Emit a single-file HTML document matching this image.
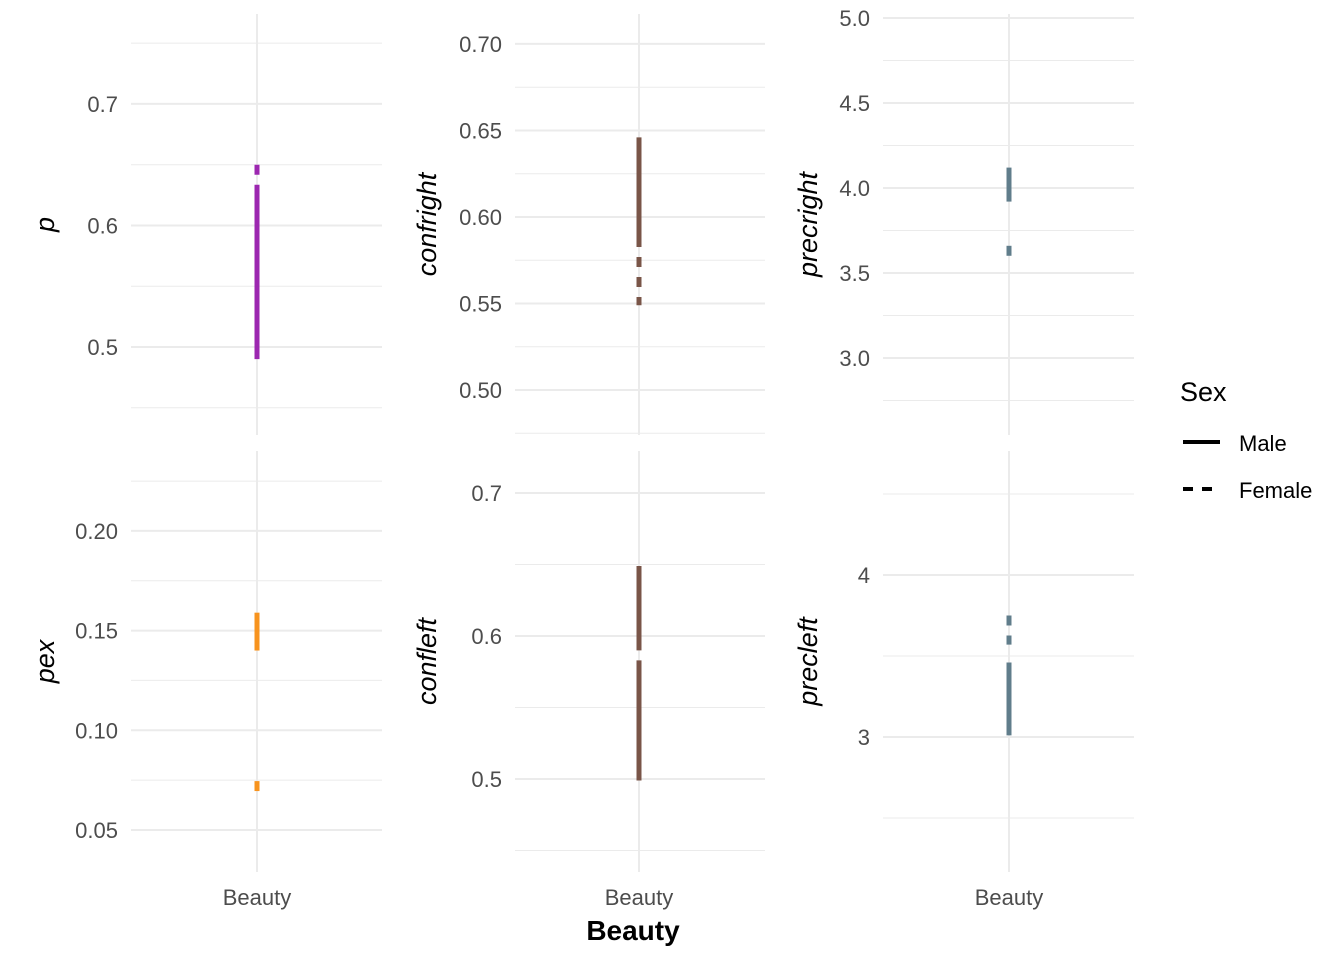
<!DOCTYPE html>
<html><head><meta charset="utf-8"><style>
body{margin:0;background:#fff;}
svg{display:block;font-family:"Liberation Sans",Arial,sans-serif;}
</style></head><body>
<svg id="c" width="1344" height="960" viewBox="0 0 1344 960"></svg>
<script>
const panelNames=["p","confright","precright","pex","confleft","precleft"];
const panelColors=["#9c27b0","#795548","#607d8b","#f7931e","#795548","#607d8b"];
const yDomains=[[0.4276,0.774],[0.474,0.7173],[2.547,5.0235],[0.0289,0.2401],[0.435,0.7294],[2.167,4.765]];
const majorTicks=[[0.5,0.6,0.7],[0.5,0.55,0.6,0.65,0.7],[3.0,3.5,4.0,4.5,5.0],[0.05,0.1,0.15,0.2],[0.5,0.6,0.7],[3,4]];
const tickLabels=[["0.5","0.6","0.7"],["0.50","0.55","0.60","0.65","0.70"],["3.0","3.5","4.0","4.5","5.0"],["0.05","0.10","0.15","0.20"],["0.5","0.6","0.7"],["3","4"]];
const minorTicks=[[0.45,0.55,0.65,0.75],[0.475,0.525,0.575,0.625,0.675],[2.75,3.25,3.75,4.25,4.75],[0.075,0.125,0.175,0.225],[0.45,0.55,0.65],[2.5,3.5,4.5]];
const maleLow=[0.490,0.583,3.92,0.140,0.499,3.01];
const maleHigh=[0.633,0.646,4.12,0.159,0.583,3.46];
const femaleLow=[0.55,0.549,3.60,0.0695,0.590,3.57];
const femaleHigh=[0.650,0.600,3.66,0.0745,0.649,3.75];
const femaleDashed=[true,true,true,true,false,true];

const NS="http://www.w3.org/2000/svg";
const svg=document.getElementById('c');
function mk(tag,attrs,parent){const e=document.createElementNS(NS,tag);for(const k in attrs)e.setAttribute(k,attrs[k]);(parent||svg).appendChild(e);return e;}
const colX=[[131,382],[515,765],[883,1134]];
const colC=[257,639,1009];
const rowY=[[14,435],[451,872]];
panelNames.forEach((nm,i)=>{
  const c=i%3,r=Math.floor(i/3);
  const [x0,x1]=colX[c],[y0,y1]=rowY[r];
  const cx=colC[c];
  const [d0,d1]=yDomains[i];
  const y=v=>y1-(v-d0)/(d1-d0)*(y1-y0);
  const g=mk('g',{});
  
  
  minorTicks[i].forEach(v=>{if(v>d0&&v<d1){const l=mk('line',{x1:x0,x2:x1,y1:y(v),y2:y(v),stroke:'#ebebeb','stroke-width':1},g);
    }});
  majorTicks[i].forEach((v,k)=>{const l=mk('line',{x1:x0,x2:x1,y1:y(v),y2:y(v),stroke:'#ebebeb','stroke-width':2},g);
    
    const t=mk('text',{x:x0-13,y:y(v)+8,'text-anchor':'end','font-size':22,fill:'#4d4d4d'},g);t.textContent=tickLabels[i][k];
    });
  const vg=mk('line',{x1:cx,x2:cx,y1:y0,y2:y1,stroke:'#ebebeb','stroke-width':2},g);
  
  const fl=mk('line',{x1:cx,x2:cx,y1:y(femaleHigh[i]),y2:y(femaleLow[i]),stroke:panelColors[i],'stroke-width':5},g);
  if(femaleDashed[i])fl.setAttribute('stroke-dasharray','10 10');
  
  const ml=mk('line',{x1:cx,x2:cx,y1:y(maleHigh[i]),y2:y(maleLow[i]),stroke:panelColors[i],'stroke-width':5},g);
  
  const tx=[54,436,817][c],ty=(y0+y1)/2;
  const at=mk('text',{x:tx,y:ty,transform:`rotate(-90 ${tx} ${ty})`,'text-anchor':'middle','font-size':27,'font-style':'italic',fill:'#000'},g);
  at.textContent=nm;
  
  if(r===1){const xt=mk('text',{x:cx,y:905,'text-anchor':'middle','font-size':22,fill:'#4d4d4d'},g);xt.textContent='Beauty';
    }
});
const xt=mk('text',{x:633,y:940,'text-anchor':'middle','font-size':28,'font-weight':'bold',fill:'#000'});
xt.textContent='Beauty';


const lg=mk('g',{});


const lt=mk('text',{x:1180,y:401,'font-size':27,fill:'#000'},lg);lt.textContent='Sex';


const k1=mk('line',{x1:1183,x2:1220,y1:442,y2:442,stroke:'#000','stroke-width':4},lg);


const t1=mk('text',{x:1239,y:451,'font-size':22,fill:'#000'},lg);t1.textContent='Male';


const k2=mk('line',{x1:1183,x2:1220,y1:489,y2:489,stroke:'#000','stroke-width':4,'stroke-dasharray':'10 9'},lg);


const t2=mk('text',{x:1239,y:498,'font-size':22,fill:'#000'},lg);t2.textContent='Female';


</script>
</body></html>
